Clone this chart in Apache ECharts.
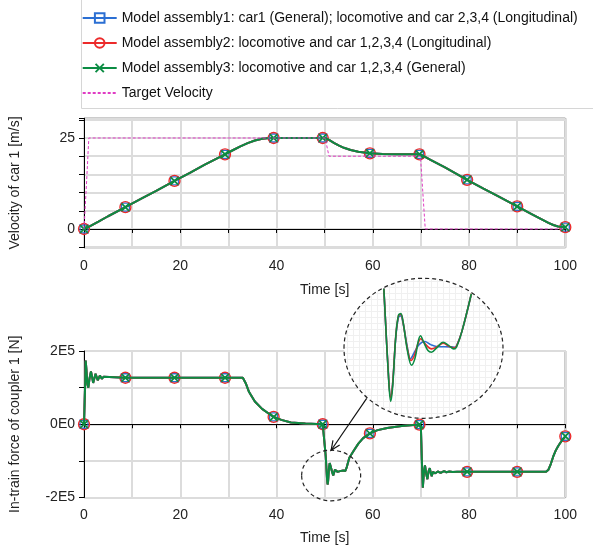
<!DOCTYPE html>
<html><head><meta charset="utf-8">
<script src="https://cdn.jsdelivr.net/npm/echarts@6/dist/echarts.min.js"></script>
<style>html,body{margin:0;padding:0;background:#fff}#c{width:593px;height:549px}</style>
</head><body><div id="c"></div>
<script>
// ---------- data ----------
const seriesNames = [
  'Model assembly1: car1 (General); locomotive and car 2,3,4 (Longitudinal)',
  'Model assembly2: locomotive and car 1,2,3,4 (Longitudinal)',
  'Model assembly3: locomotive and car 1,2,3,4 (General)',
  'Target Velocity'
];
const markerTimes = [0, 8.6, 18.8, 29.3, 39.4, 49.6, 59.4, 69.7, 79.6, 90, 100];

const velT = [0, 0.5, 3, 5, 8.6, 12, 15, 18.8, 22, 25, 29.3, 31, 32.5, 34, 35.5, 37, 38.5, 39.4, 42, 45, 49.6, 50.3, 51, 52, 53, 54, 55.4, 57, 59.4, 62, 65, 69.7, 70.3, 72, 75, 79.6, 83, 86, 90, 93, 95, 96.5, 97.5, 98.5, 100];
const velV = [0, 0.25, 2.0, 3.5, 6.0, 8.4, 10.5, 13.2, 15.4, 17.6, 20.5, 21.7, 22.7, 23.6, 24.3, 24.8, 25.0, 25.0, 25.0, 25.0, 25.0, 24.9, 24.4, 23.6, 22.9, 22.3, 21.7, 21.2, 20.8, 20.6, 20.5, 20.5, 20.2, 19.0, 16.9, 13.5, 11.1, 9.0, 6.2, 4.1, 2.7, 1.7, 1.1, 0.7, 0.5];

const targetT = [0, 0.5, 1.0, 50.1, 50.9, 69.9, 70.9, 100];
const targetV = [0, 12, 25, 25, 20, 20, 0, 0];

const forceT = [0, 0.05, 0.2, 0.35, 0.5, 0.7, 0.9, 1.15, 1.45, 1.7, 1.9, 2.15, 2.4, 2.65, 2.85, 3.1, 3.3, 3.5, 3.7, 3.9, 4.1, 4.5, 8.6, 18.8, 29.3, 33.0, 33.6, 34.3, 35.5, 37, 38.5, 39.4, 41, 43, 46, 49.6, 50.0,
  50.23, 50.5, 50.61, 50.72, 50.9, 51.05, 51.18, 51.3, 51.55, 51.78, 51.98, 52.15, 52.28, 52.45, 52.7, 52.9, 53.2, 53.55, 53.85, 54.15, 54.3, 54.6, 55.13,
  56, 57, 58, 59.4, 61, 63, 66, 69.7, 70.0, 70.2, 70.4, 70.6, 70.85, 71.1, 71.35, 71.6, 71.85, 72.05, 72.25, 72.5, 72.75, 73.0, 73.25, 73.5, 73.8, 74.1, 74.4, 74.8, 75.3, 75.9, 76.6, 77.5, 79.6, 90, 96.0, 96.5, 97, 97.5, 98, 98.5, 99, 99.5, 100];
const forceV = [0, 5000, 90000, 174000, 150000, 110000, 100000, 125000, 144000, 128000, 113000, 125000, 138000, 128000, 120000, 127000, 133000, 128000, 124000, 127000, 130000, 127000, 127000, 127000, 127000, 127000, 112000, 88000, 62000, 42000, 28000, 20000, 12000, 5000, 2000, 0, 0,
  -88000, -150000, -164500, -155000, -120000, -106000, -105000, -110000, -130000, -140000, -135000, -124000, -120000, -124000, -130000, -131200, -128000, -124400, -126500, -128900, -127500, -117000, -91500,
  -73000, -53000, -38000, -25000, -16000, -10000, -5000, -1000, -10000, -100000, -173000, -135000, -112000, -135000, -150000, -128000, -120000, -133000, -142000, -130000, -126000, -134000, -137000, -129000, -128000, -133000, -131000, -128000, -131000, -129000, -130500, -130000, -130000, -130000, -130000, -124000, -108000, -88000, -72000, -60000, -50000, -41000, -33000];

// zoomed inset (t [s], force [N]) for each model assembly
const insetBlue = [[50.23,-88000],[50.5,-149000],[50.61,-161500],[50.72,-153000],[50.9,-121000],[51.05,-107500],[51.18,-106500],[51.3,-111000],[51.55,-128000],[51.72,-135700],[51.95,-131000],[52.2,-126000],[52.52,-123900],[52.85,-126000],[53.18,-127300],[54.0,-127500],[54.2,-127800],[54.3,-126800],[54.6,-117000],[55.1,-93000]];
const insetRed = [[50.23,-88000],[50.5,-149000],[50.61,-161800],[50.72,-153000],[50.9,-120000],[51.05,-106500],[51.18,-105500],[51.3,-110500],[51.55,-129000],[51.75,-136800],[51.95,-133000],[52.15,-125000],[52.3,-122000],[52.5,-125000],[52.9,-128900],[53.2,-127500],[53.55,-125000],[53.85,-127000],[54.15,-128200],[54.3,-127000],[54.6,-117000],[55.13,-91500]];
const insetGreen = [[50.23,-88000],[50.5,-150000],[50.61,-164500],[50.72,-155000],[50.9,-120000],[51.05,-106000],[51.18,-105000],[51.3,-110000],[51.55,-130000],[51.78,-140000],[51.98,-135000],[52.15,-124000],[52.28,-120000],[52.45,-124000],[52.7,-130000],[52.9,-131200],[53.2,-128000],[53.55,-124400],[53.85,-126500],[54.15,-128900],[54.3,-127500],[54.6,-117000],[55.13,-91500]];

const xTickLabels = [0, 20, 40, 60, 80, 100];
const velTickLabels = [0, 25];
const forceTickValues = [-200000, 0, 200000];
const forceTickLabels = ['-2E5', '0E0', '2E5'];

// ---------- styling ----------
const FONT = 'Liberation Sans, Arial, sans-serif';
const BLUE = '#2b6fd3', RED = '#ec2a2a', GREEN = '#0b8c43', MAG = '#e03cc4';
const XPATH = 'path://M0,1.4L1.4,0L5,3.6L8.6,0L10,1.4L6.4,5L10,8.6L8.6,10L5,6.4L1.4,10L0,8.6L3.6,5Z';

function mkData(ts, vs) {
  return ts.map((t, i) => markerTimes.includes(t) ? [t, vs[i]] : { value: [t, vs[i]], symbol: 'none' });
}
const styles = [
  { color: BLUE, symbol: 'rect', symbolSize: 8, itemStyle: { color: 'rgba(255,255,255,0)', borderColor: BLUE, borderWidth: 1.3 } },
  { color: RED, symbol: 'circle', symbolSize: 11, itemStyle: { color: 'rgba(255,255,255,0)', borderColor: RED, borderWidth: 1.3 } },
  { color: GREEN, symbol: XPATH, symbolSize: 9, itemStyle: { color: GREEN } }
];
function mainSeries(k, xi, ts, vs) {
  const s = styles[k];
  return {
    type: 'line', name: seriesNames[k], xAxisIndex: xi, yAxisIndex: xi,
    data: mkData(ts, vs), symbol: s.symbol, symbolSize: s.symbolSize,
    itemStyle: s.itemStyle, lineStyle: { color: s.color, width: 2 }, color: s.color,
    emphasis: { disabled: true }, z: 3 + k
  };
}
const insetData = [insetBlue, insetRed, insetGreen];

function xAxis(gi, gap) {
  return {
    type: 'value', gridIndex: gi, min: 0, max: 100, interval: 10,
    name: 'Time [s]', nameLocation: 'middle', nameGap: gap,
    nameTextStyle: { fontSize: 14, fontFamily: FONT, color: '#222' },
    axisLine: { show: true, lineStyle: { color: '#000', width: 1 } },
    axisTick: { show: true, inside: false, length: 4, lineStyle: { color: '#000' } },
    axisLabel: { fontSize: 14, fontFamily: FONT, color: '#222', margin: 11,
      formatter: v => xTickLabels.includes(v) ? String(v) : '' },
    splitLine: { show: true, lineStyle: { color: '#dcdcdc', width: 2 } }
  };
}

const series = [];
for (let k = 0; k < 3; k++) series.push(mainSeries(k, 0, velT, velV));
series.push({
  type: 'line', name: seriesNames[3], xAxisIndex: 0, yAxisIndex: 0,
  data: targetT.map((t, i) => [t, targetV[i]]), symbol: 'none', color: MAG,
  lineStyle: { color: MAG, width: 1, type: [3, 2] }, emphasis: { disabled: true }, z: 7
});
for (let k = 0; k < 3; k++) series.push(mainSeries(k, 1, forceT, forceV));
for (let k = 0; k < 3; k++) series.push({
  type: 'line', name: seriesNames[k], xAxisIndex: 2, yAxisIndex: 2,
  data: insetData[k], symbol: 'none', smooth: 0.35, color: styles[k].color,
  lineStyle: { color: styles[k].color, width: 1.6 }, emphasis: { disabled: true },
  z: 60 + k, clip: false
});

const chart = echarts.init(document.getElementById('c'), null, { renderer: 'canvas' });
chart.setOption({
  animation: false,
  backgroundColor: '#fff',
  textStyle: { fontFamily: FONT },
  legend: {
    orient: 'vertical', left: 81.7, top: 11, padding: 0,
    itemWidth: 34, itemHeight: 12, itemGap: 11,
    textStyle: { fontSize: 14, fontFamily: FONT, color: '#111' },
    data: [seriesNames[0], seriesNames[1], seriesNames[2],
      { name: seriesNames[3], itemStyle: { opacity: 0 } }],
    selectedMode: false
  },
  grid: [
    { left: 82.5, top: 118.3, width: 482.8, height: 129.4, show: true, borderColor: '#000', borderWidth: 1 },
    { left: 82.5, top: 351, width: 482.8, height: 146.5, show: true, borderColor: '#000', borderWidth: 1 },
    { left: 344, top: 278.3, width: 159, height: 140, show: false }
  ],
  xAxis: [
    xAxis(0, 35), xAxis(1, 34),
    { type: 'value', gridIndex: 2, min: 48.0, max: 56.9, show: false }
  ],
  yAxis: [
    {
      type: 'value', gridIndex: 0, min: -5.14, max: 30.41, splitNumber: 7,
      name: 'Velocity of car 1 [m/s]', nameLocation: 'middle', nameGap: 62, nameRotate: 90,
      nameTextStyle: { fontSize: 14, fontFamily: FONT, color: '#222' },
      axisLine: { show: true, lineStyle: { color: '#000' } },
      axisTick: { show: true, inside: false, length: 5, lineStyle: { color: '#000' } },
      axisLabel: { fontSize: 14, fontFamily: FONT, color: '#222', margin: 9,
        formatter: v => velTickLabels.includes(v) ? String(v) : '' },
      splitLine: { show: true, lineStyle: { color: '#dcdcdc', width: 2 } }
    },
    {
      type: 'value', gridIndex: 1, min: -200000, max: 200000, interval: 100000,
      name: 'In-train force of coupler 1 [N]', nameLocation: 'middle', nameGap: 62, nameRotate: 90,
      nameTextStyle: { fontSize: 14, fontFamily: FONT, color: '#222' },
      axisLine: { show: true, lineStyle: { color: '#000' } },
      axisTick: { show: true, inside: false, length: 5, lineStyle: { color: '#000' } },
      axisLabel: { fontSize: 14, fontFamily: FONT, color: '#222', margin: 9,
        formatter: v => { const i = forceTickValues.indexOf(v); return i >= 0 ? forceTickLabels[i] : ''; } },
      splitLine: { show: true, lineStyle: { color: '#dcdcdc', width: 2 } }
    },
    { type: 'value', gridIndex: 2, min: -176000, max: -81000, show: false }
  ],
  series: series
});

// ---------- annotations ----------
const pc = document.createElement('canvas');
pc.width = 6; pc.height = 6;
const g = pc.getContext('2d');
g.fillStyle = '#fff'; g.fillRect(0, 0, 6, 6);
g.fillStyle = '#f0f0f0'; g.fillRect(5, 0, 1, 6); g.fillRect(0, 5, 6, 1);

const c = chart.convertToPixel({ xAxisIndex: 1, yAxisIndex: 1 }, [51.35, -140000]);
const srx = 29.5, sry = 25.3;
const tip = [c[0], c[1] - sry];
const start = [366.7, 398.3];
const dx = tip[0] - start[0], dy = tip[1] - start[1], L = Math.hypot(dx, dy);
const ux = dx / L, uy = dy / L, hl = 10, ang = 0.42;
function rot(x, y, a) { return [x * Math.cos(a) - y * Math.sin(a), x * Math.sin(a) + y * Math.cos(a)]; }
const h1 = rot(-ux, -uy, ang), h2 = rot(-ux, -uy, -ang);

chart.setOption({
  graphic: [
    { type: 'polyline', silent: true, z: 1, shape: { points: [[81.5, 0], [81.5, 108.5], [600, 108.5]] },
      style: { stroke: '#d6d6d6', lineWidth: 1, fill: null } },
    { type: 'ellipse', silent: true, z: 50, shape: { cx: 423.5, cy: 348.3, rx: 79.5, ry: 70 },
      style: { fill: { image: pc, repeat: 'repeat' }, stroke: '#222', lineWidth: 1.2, lineDash: [4, 3] } },
    { type: 'ellipse', silent: true, z: 50, shape: { cx: c[0], cy: c[1], rx: srx, ry: sry },
      style: { fill: null, stroke: '#222', lineWidth: 1.2, lineDash: [4, 3] } },
    { type: 'line', silent: true, z: 50, shape: { x1: start[0], y1: start[1], x2: tip[0], y2: tip[1] },
      style: { stroke: '#111', lineWidth: 1.2 } },
    { type: 'polyline', silent: true, z: 50,
      shape: { points: [[tip[0] + h1[0] * hl, tip[1] + h1[1] * hl], tip, [tip[0] + h2[0] * hl, tip[1] + h2[1] * hl]] },
      style: { stroke: '#111', lineWidth: 1.2, fill: null } }
  ]
});
</script></body></html>
